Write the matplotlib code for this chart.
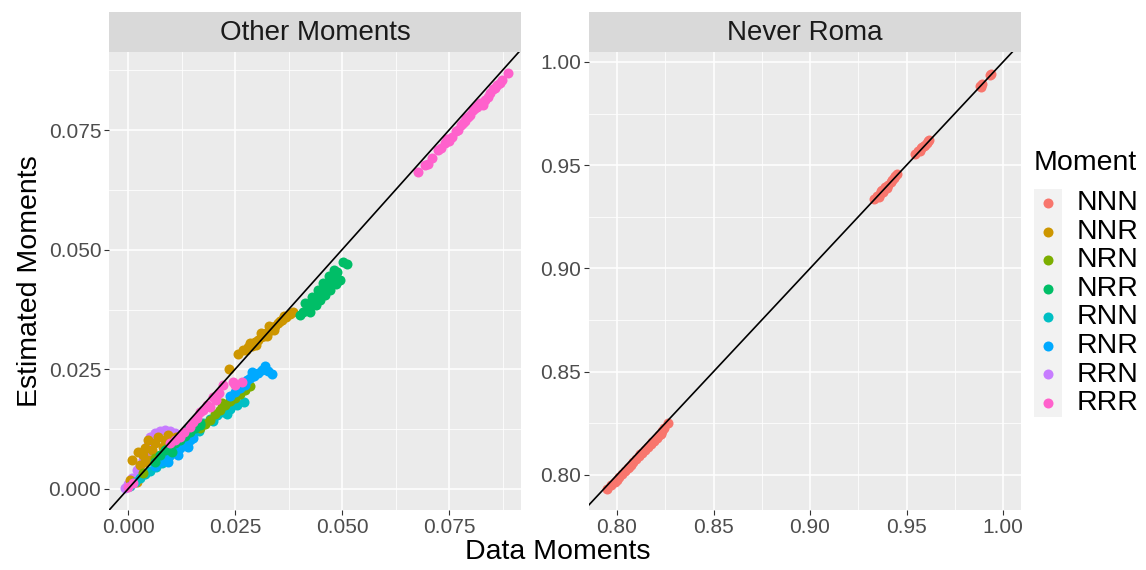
import numpy as np
import matplotlib.pyplot as plt
from matplotlib.ticker import FixedLocator

plt.rcParams['font.family'] = ['Liberation Sans', 'DejaVu Sans']

moments = ['NNN', 'NNR', 'NRN', 'NRR', 'RNN', 'RNR', 'RRN', 'RRR']
colors = ['#F8766D', '#CD9600', '#7CAE00', '#00BE67',
          '#00BFC4', '#00A9FF', '#C77CFF', '#FF61CC']

# ---- "Other Moments" panel: (data moment, estimated moment) per group ----
nnr_x = [0.0257, 0.0269, 0.0280, 0.0290, 0.0297, 0.0304, 0.0311, 0.0318, 0.0322,
         0.0329, 0.0336, 0.0343, 0.0350, 0.0360, 0.0369, 0.0379, 0.0386,
         0.0275, 0.0285, 0.0300, 0.0310, 0.0325, 0.0330, 0.0340, 0.0355, 0.0365,
         0.0236,
         0.0028, 0.0035, 0.0040, 0.0047, 0.0051, 0.0056, 0.0063, 0.0070, 0.0075,
         0.0082, 0.0086, 0.0093, 0.0098, 0.0105, 0.0112, 0.0040, 0.0023,
         0.0009, 0.0005, 0.0021]
nnr_y = [0.0282, 0.0290, 0.0297, 0.0299, 0.0307, 0.0311, 0.0317, 0.0320, 0.0326,
         0.0330, 0.0336, 0.0340, 0.0347, 0.0353, 0.0359, 0.0365, 0.0370,
         0.0290, 0.0305, 0.0300, 0.0325, 0.0320, 0.0340, 0.0333, 0.0352, 0.0362,
         0.0251,
         0.0050, 0.0071, 0.0086, 0.0102, 0.0061, 0.0081, 0.0096, 0.0109, 0.0071,
         0.0088, 0.0102, 0.0113, 0.0081, 0.0096, 0.0109, 0.0056, 0.0077,
         0.0061, 0.0019, 0.0015]

nrn_x = [0.0168, 0.0180, 0.0192, 0.0203, 0.0215, 0.0227, 0.0238, 0.0250, 0.0262,
         0.0273, 0.0285, 0.0220, 0.0243, 0.0035, 0.0063, 0.0090]
nrn_y = [0.0127, 0.0136, 0.0144, 0.0157, 0.0165, 0.0175, 0.0184, 0.0190, 0.0198,
         0.0207, 0.0215, 0.0180, 0.0194, 0.0033, 0.0065, 0.0085]

nrr_x = [0.0402, 0.0409, 0.0421, 0.0432, 0.0442, 0.0453, 0.0465, 0.0472, 0.0479,
         0.0488, 0.0502, 0.0512, 0.0425, 0.0439, 0.0449, 0.0460, 0.0472, 0.0486,
         0.0495, 0.0414, 0.0430, 0.0444, 0.0456, 0.0470, 0.0481,
         0.0063, 0.0075, 0.0086, 0.0098, 0.0110, 0.0121, 0.0133, 0.0145, 0.0157,
         0.0168, 0.0140, 0.0103, 0.0168]
nrr_y = [0.0363, 0.0370, 0.0382, 0.0395, 0.0403, 0.0416, 0.0426, 0.0437, 0.0447,
         0.0453, 0.0474, 0.0470, 0.0370, 0.0384, 0.0395, 0.0405, 0.0416, 0.0428,
         0.0437, 0.0388, 0.0401, 0.0416, 0.0430, 0.0445, 0.0457,
         0.0056, 0.0071, 0.0081, 0.0088, 0.0096, 0.0102, 0.0111, 0.0119, 0.0127,
         0.0134, 0.0127, 0.0077, 0.0138]

rnn_x = [0.0005, 0.0016, 0.0028, 0.0040, 0.0051, 0.0065, 0.0079, 0.0093, 0.0110,
         0.0126, 0.0140, 0.0152, 0.0161, 0.0175, 0.0192, 0.0208, 0.0222, 0.0238,
         0.0255, 0.0271, 0.0166, 0.0199, 0.0231]
rnn_y = [0.0006, 0.0015, 0.0023, 0.0031, 0.0038, 0.0046, 0.0054, 0.0065, 0.0077,
         0.0092, 0.0107, 0.0119, 0.0129, 0.0138, 0.0146, 0.0155, 0.0161, 0.0167,
         0.0175, 0.0182, 0.0121, 0.0142, 0.0157]

rnr_x = [0.0238, 0.0250, 0.0262, 0.0269, 0.0278, 0.0285, 0.0294, 0.0304, 0.0313,
         0.0320, 0.0336, 0.0327, 0.0257, 0.0273, 0.0290,
         0.0063, 0.0075, 0.0086, 0.0098, 0.0110, 0.0121, 0.0133, 0.0145, 0.0152,
         0.0093, 0.0117, 0.0140]
rnr_y = [0.0194, 0.0203, 0.0211, 0.0221, 0.0228, 0.0232, 0.0236, 0.0242, 0.0249,
         0.0257, 0.0240, 0.0246, 0.0215, 0.0217, 0.0244,
         0.0048, 0.0056, 0.0065, 0.0071, 0.0077, 0.0086, 0.0094, 0.0102, 0.0107,
         0.0056, 0.0071, 0.0088]

rrn_x = [-0.0007, 0.0000, 0.0009, 0.0021, 0.0028, 0.0035, 0.0042, 0.0047, 0.0051,
         0.0063, 0.0075, 0.0086, 0.0098, 0.0110, 0.0058]
rrn_y = [0.0002, 0.0010, 0.0023, 0.0040, 0.0050, 0.0061, 0.0071, 0.0092, 0.0109,
         0.0117, 0.0121, 0.0123, 0.0121, 0.0117, 0.0102]

rrr_x = [0.0678, 0.0694, 0.0710, 0.0724, 0.0741, 0.0757, 0.0771, 0.0783, 0.0794,
         0.0806, 0.0815, 0.0829, 0.0834, 0.0846, 0.0857, 0.0869, 0.0874, 0.0888,
         0.0700, 0.0730, 0.0750, 0.0765, 0.0778, 0.0790, 0.0800, 0.0811, 0.0822,
         0.0840, 0.0852, 0.0862, 0.0745, 0.0788, 0.0818,
         0.0000, 0.0012, 0.0098, 0.0121, 0.0145, 0.0161, 0.0168, 0.0192, 0.0199,
         0.0222, 0.0245, 0.0266, 0.0130, 0.0152, 0.0175, 0.0185, 0.0205, 0.0212,
         0.0110, 0.0250]
rrr_y = [0.0662, 0.0677, 0.0691, 0.0708, 0.0723, 0.0735, 0.0750, 0.0764, 0.0777,
         0.0792, 0.0798, 0.0802, 0.0812, 0.0827, 0.0838, 0.0848, 0.0854, 0.0869,
         0.0680, 0.0712, 0.0727, 0.0747, 0.0760, 0.0775, 0.0782, 0.0795, 0.0806,
         0.0820, 0.0835, 0.0845, 0.0731, 0.0768, 0.0803,
         0.0004, 0.0013, 0.0096, 0.0109, 0.0129, 0.0148, 0.0161, 0.0171, 0.0192,
         0.0217, 0.0223, 0.0223, 0.0120, 0.0140, 0.0165, 0.0175, 0.0185, 0.0200,
         0.0103, 0.0218]

# ---- "Never Roma" panel ----
nnn_x = [0.7950, 0.7970, 0.7990, 0.8010, 0.8025, 0.8040, 0.8055, 0.8070, 0.8085,
         0.8100, 0.8115, 0.8130, 0.8145, 0.8160, 0.8175, 0.8190, 0.8205, 0.8220,
         0.8235, 0.8245, 0.8265, 0.8000, 0.8060, 0.8120, 0.8180, 0.8230,
         0.9330, 0.9345, 0.9360, 0.9375, 0.9390, 0.9405, 0.9420, 0.9435, 0.9450,
         0.9355, 0.9380, 0.9400, 0.9425, 0.9440, 0.9370,
         0.9545, 0.9560, 0.9575, 0.9590, 0.9605, 0.9618, 0.9568, 0.9598, 0.9580,
         0.9612,
         0.9880, 0.9890, 0.9885, 0.9930, 0.9938]
nnn_y = [0.7930, 0.7950, 0.7968, 0.7990, 0.8005, 0.8020, 0.8032, 0.8050, 0.8063,
         0.8078, 0.8092, 0.8108, 0.8120, 0.8136, 0.8150, 0.8165, 0.8180, 0.8195,
         0.8212, 0.8225, 0.8250, 0.7975, 0.8040, 0.8100, 0.8160, 0.8200,
         0.9335, 0.9350, 0.9362, 0.9378, 0.9392, 0.9405, 0.9420, 0.9438, 0.9455,
         0.9345, 0.9368, 0.9390, 0.9430, 0.9448, 0.9375,
         0.9555, 0.9570, 0.9582, 0.9595, 0.9608, 0.9622, 0.9570, 0.9598, 0.9590,
         0.9618,
         0.9885, 0.9892, 0.9880, 0.9935, 0.9942]

left_groups = {
    'RRN': (rrn_x, rrn_y), 'NNR': (nnr_x, nnr_y), 'RNN': (rnn_x, rnn_y),
    'NRN': (nrn_x, nrn_y), 'RNR': (rnr_x, rnr_y), 'NRR': (nrr_x, nrr_y),
    'RRR': (rrr_x, rrr_y),
}

W, H = 1146, 570
fig = plt.figure(figsize=(W / 100, H / 100), dpi=100)
BG = '#EBEBEB'
TICKC = '#4D4D4D'
PT = 52  # marker area


def px_axes(x0, y0, x1, y1):
    return fig.add_axes([x0 / W, 1 - y1 / H, (x1 - x0) / W, (y1 - y0) / H])


def style(ax, ticks, minor, labels, lim_x, lim_y):
    ax.set_facecolor(BG)
    for s in ax.spines.values():
        s.set_visible(False)
    ax.set_xlim(*lim_x)
    ax.set_ylim(*lim_y)
    ax.xaxis.set_major_locator(FixedLocator(ticks))
    ax.yaxis.set_major_locator(FixedLocator(ticks))
    ax.xaxis.set_minor_locator(FixedLocator(minor))
    ax.yaxis.set_minor_locator(FixedLocator(minor))
    ax.set_xticklabels(labels)
    ax.set_yticklabels(labels)
    ax.grid(which='major', color='white', lw=1.1)
    ax.grid(which='minor', color='white', lw=0.55)
    ax.set_axisbelow(True)
    ax.tick_params(which='major', length=3.5, width=0.8, color='#333333',
                   labelcolor=TICKC, labelsize=15, pad=2)
    ax.tick_params(which='minor', length=0)


def strip(x0, x1, text):
    sa = px_axes(x0, 12, x1, 52)
    sa.set_facecolor('#D9D9D9')
    sa.set_xticks([])
    sa.set_yticks([])
    for s in sa.spines.values():
        s.set_visible(False)
    sa.text(0.5, 0.47, text, ha='center', va='center', fontsize=20,
            color='#1A1A1A', transform=sa.transAxes)


# left panel
ax1 = px_axes(109, 52, 521, 510)
lt = [0.0, 0.025, 0.05, 0.075]
style(ax1, lt, [0.0125, 0.0375, 0.0625, 0.0875],
      ['0.000', '0.025', '0.050', '0.075'], (-0.00444, 0.0918), (-0.00439, 0.0913))
for name, (xs, ys) in left_groups.items():
    ax1.scatter(xs, ys, s=PT, color=colors[moments.index(name)], lw=0, zorder=2)
ax1.axline((0, 0), slope=1, color='black', lw=1.2, zorder=3)
strip(109, 521, 'Other Moments')

# right panel
ax2 = px_axes(589, 52, 1021, 510)
rt = [0.80, 0.85, 0.90, 0.95, 1.00]
style(ax2, rt, [0.825, 0.875, 0.925, 0.975],
      ['0.80', '0.85', '0.90', '0.95', '1.00'], (0.7855, 1.0093), (0.783, 1.0048))
ax2.scatter(nnn_x, nnn_y, s=PT, color=colors[0], lw=0, zorder=2)
ax2.axline((0.8, 0.8), slope=1, color='black', lw=1.2, zorder=3)
strip(589, 1021, 'Never Roma')

fig.text(558 / W, 1 - 552 / H, 'Data Moments', ha='center', va='center',
         fontsize=20.5, color='black')
fig.text(30 / W, 1 - 281 / H, 'Estimated Moments', ha='center', va='center',
         rotation=90, fontsize=20.5, color='black')

# legend
lg = px_axes(1034, 189, 1062, 417)
lg.set_facecolor('#F2F2F2')
lg.set_xlim(0, 1)
lg.set_ylim(0, 8)
lg.set_xticks([])
lg.set_yticks([])
for s in lg.spines.values():
    s.set_visible(False)
for i, (m, c) in enumerate(zip(moments, colors)):
    lg.scatter([0.5], [7.5 - i], s=PT, color=c, lw=0)
    fig.text(1077 / W, 1 - (203 + i * 28.6) / H, m, ha='left', va='center',
             fontsize=20.5, color='black')
fig.text(1034 / W, 1 - 163 / H, 'Moment', ha='left', va='center',
         fontsize=20.5, color='black')

fig.savefig('out.png', dpi=100)
